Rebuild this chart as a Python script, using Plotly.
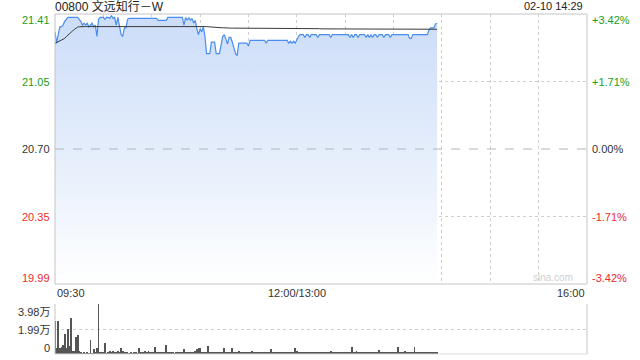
import plotly.graph_objects as go

# ---------------- data ----------------
prev_close = 20.70
price_ticks = [21.41, 21.05, 20.70, 20.35, 19.99]
price_tick_vals = [21.408, 21.054, 20.70, 20.346, 19.992]
pct_ticks = ["+3.42%", "+1.71%", "0.00%", "-1.71%", "-3.42%"]
time_labels = ["09:30", "12:00/13:00", "16:00"]
time_label_pos = [0, 150, 330]
vol_ticks = ["3.98万", "1.99万", "0"]
vol_tick_vals = [39800, 19900, 0]

price = [
    21.315, 21.255, 21.30, 21.34, 21.34, 21.35, 21.37, 21.38, 21.39, 21.39,
    21.39, 21.39, 21.39, 21.39, 21.39, 21.38, 21.37, 21.35, 21.36, 21.35,
    21.36, 21.34, 21.35, 21.36, 21.34, 21.35, 21.29, 21.38, 21.39, 21.39,
    21.39, 21.38, 21.39, 21.39, 21.385, 21.40, 21.385, 21.39, 21.35, 21.39,
    21.34, 21.30, 21.29, 21.335, 21.335, 21.38, 21.385, 21.385, 21.385, 21.385,
    21.385, 21.385, 21.385, 21.385, 21.385, 21.385, 21.385, 21.385, 21.385, 21.385,
    21.385, 21.385, 21.385, 21.385, 21.375, 21.375, 21.375, 21.375, 21.375, 21.375,
    21.39, 21.39, 21.39, 21.39, 21.39, 21.39, 21.39, 21.39, 21.39, 21.39,
    21.35, 21.39, 21.375, 21.39, 21.375, 21.385, 21.36, 21.375, 21.33, 21.30,
    21.33, 21.315, 21.34, 21.29, 21.20, 21.20, 21.20, 21.26, 21.26, 21.26,
    21.20, 21.20, 21.20, 21.245, 21.29, 21.30, 21.28, 21.25, 21.285, 21.285,
    21.26, 21.23, 21.20, 21.19, 21.255, 21.255, 21.255, 21.255, 21.255, 21.255,
    21.24, 21.27, 21.27, 21.27, 21.27, 21.27, 21.27, 21.27, 21.27, 21.27,
    21.27, 21.255, 21.27, 21.27, 21.27, 21.27, 21.27, 21.27, 21.27, 21.27,
    21.27, 21.27, 21.27, 21.27, 21.27, 21.255, 21.265, 21.255, 21.265, 21.255,
    21.275, 21.29, 21.30, 21.30, 21.30, 21.285, 21.30, 21.30, 21.285, 21.30,
    21.30, 21.30, 21.30, 21.285, 21.30, 21.30, 21.30, 21.30, 21.30, 21.30,
    21.30, 21.285, 21.30, 21.30, 21.30, 21.30, 21.30, 21.30, 21.30, 21.30,
    21.30, 21.30, 21.30, 21.285, 21.30, 21.285, 21.30, 21.30, 21.285, 21.30,
    21.30, 21.30, 21.30, 21.285, 21.30, 21.285, 21.30, 21.285, 21.30, 21.30,
    21.285, 21.30, 21.30, 21.30, 21.285, 21.30, 21.30, 21.30, 21.285, 21.30,
    21.30, 21.30, 21.30, 21.30, 21.30, 21.30, 21.30, 21.30, 21.30, 21.30,
    21.28, 21.28, 21.30, 21.30, 21.30, 21.30, 21.30, 21.30, 21.30, 21.30,
    21.30, 21.30, 21.325, 21.335, 21.335, 21.335, 21.355, 21.36,
]

avg_price = [
    21.254, 21.258, 21.262, 21.266, 21.270, 21.275, 21.280, 21.289, 21.298, 21.306,
    21.313, 21.320, 21.327, 21.334, 21.339, 21.341, 21.342, 21.342, 21.342, 21.342,
    21.342, 21.342, 21.342, 21.342, 21.343, 21.343, 21.343, 21.343, 21.343, 21.343,
    21.344, 21.344, 21.344, 21.344, 21.344, 21.344, 21.344, 21.344, 21.344, 21.344,
    21.344, 21.344, 21.344, 21.344, 21.344, 21.344, 21.344, 21.344, 21.344, 21.344,
    21.345, 21.345, 21.345, 21.345, 21.345, 21.345, 21.345, 21.345, 21.345, 21.345,
    21.345, 21.345, 21.345, 21.345, 21.345, 21.345, 21.345, 21.345, 21.345, 21.345,
    21.345, 21.345, 21.345, 21.345, 21.345, 21.345, 21.345, 21.345, 21.345, 21.345,
    21.345, 21.345, 21.345, 21.345, 21.345, 21.345, 21.345, 21.345, 21.345, 21.345,
    21.344, 21.344, 21.343, 21.343, 21.342, 21.341, 21.340, 21.339, 21.339, 21.338,
    21.337, 21.337, 21.336, 21.336, 21.336, 21.335, 21.335, 21.335, 21.335, 21.334,
    21.334, 21.334, 21.333, 21.333, 21.333, 21.333, 21.333, 21.333, 21.333, 21.333,
    21.333, 21.333, 21.333, 21.333, 21.333, 21.333, 21.333, 21.333, 21.333, 21.333,
    21.333, 21.333, 21.333, 21.333, 21.333, 21.332, 21.332, 21.332, 21.332, 21.332,
    21.332, 21.332, 21.332, 21.332, 21.332, 21.332, 21.332, 21.332, 21.332, 21.332,
    21.331, 21.331, 21.331, 21.331, 21.331, 21.331, 21.331, 21.331, 21.331, 21.331,
    21.331, 21.331, 21.331, 21.331, 21.331, 21.330, 21.330, 21.330, 21.330, 21.330,
    21.330, 21.330, 21.330, 21.330, 21.330, 21.330, 21.330, 21.330, 21.330, 21.330,
    21.330, 21.330, 21.330, 21.330, 21.330, 21.329, 21.329, 21.329, 21.329, 21.329,
    21.329, 21.329, 21.329, 21.329, 21.329, 21.329, 21.329, 21.329, 21.329, 21.329,
    21.329, 21.329, 21.329, 21.329, 21.329, 21.329, 21.329, 21.329, 21.329, 21.329,
    21.328, 21.328, 21.328, 21.328, 21.328, 21.328, 21.328, 21.328, 21.328, 21.328,
    21.328, 21.328, 21.328, 21.328, 21.328, 21.328, 21.328, 21.328, 21.328, 21.328,
    21.328, 21.328, 21.328, 21.328, 21.328, 21.328, 21.328, 21.328,
]

volume = [
    26200, 4450, 26200, 4450, 5200, 7100, 16200, 4450, 20200, 6300,
    28500, 2600, 2600, 13600, 15000, 2600, 1000, 500, 1500, 500,
    1500, 500, 11500, 500, 3700, 1800, 4500, 39800, 1800, 1000,
    1800, 8400, 500, 800, 2300, 1800, 2300, 1800, 1000, 2300,
    1000, 4450, 2600, 1800, 1000, 1000, 600, 1000, 600, 1000,
    1000, 600, 4450, 1000, 1500, 1000, 2600, 1000, 2600, 1000,
    1000, 1500, 5800, 1500, 1800, 1200, 1800, 1000, 1000, 7100,
    1000, 1000, 1200, 1800, 600, 1000, 1200, 1800, 1500, 1800,
    3700, 1000, 1500, 800, 1200, 1000, 1500, 2600, 3700, 5000,
    4450, 1000, 1800, 1000, 1200, 6300, 1500, 1000, 1200, 1000,
    1000, 1500, 1200, 1000, 1800, 5000, 1200, 1000, 1800, 1500,
    5000, 1000, 1200, 1000, 2600, 1000, 1500, 1000, 800, 1200,
    1000, 1500, 2600, 1000, 1200, 1000, 1000, 1500, 800, 1000,
    1200, 1000, 1000, 1500, 3700, 1000, 1200, 1000, 800, 1000,
    1200, 1000, 1000, 1500, 1000, 1200, 1000, 800, 1000, 4450,
    2000, 1500, 1800, 1000, 1200, 1000, 1500, 1000, 1200, 1000,
    1000, 1200, 1000, 800, 1000, 1000, 1200, 1000, 1500, 1000,
    1800, 2600, 1000, 1200, 1000, 1500, 1800, 1000, 1200, 1000,
    1500, 1000, 1200, 1800, 5800, 1200, 1000, 2600, 1000, 1500,
    1800, 1200, 1000, 1000, 1500, 1000, 1200, 1000, 1000, 1500,
    1800, 3100, 1200, 1000, 1500, 1000, 1000, 1200, 1500, 1000,
    1200, 1000, 1500, 5200, 1200, 1800, 1000, 2600, 1200, 1000,
    1000, 1800, 1500, 5200, 1200, 1000, 1500, 1000, 1200, 1800,
    1000, 1500, 1200, 1000, 800, 1500, 1000, 1200,
]

minutes = list(range(len(price)))

# ---------------- style ----------------
FONT = "Liberation Sans, Arial, Noto Sans CJK SC, sans-serif"
GREEN = "#1a9e1a"
RED = "#ee2a2a"
DARK = "#333333"
GRID = "#cfcfcf"
BORDER = "#c4c4c4"
y_lo, y_hi = 19.992, 21.408

fig = go.Figure()

# baseline for gradient fill
fig.add_trace(go.Scatter(x=[minutes[0], minutes[-1]], y=[y_lo, y_lo], mode="lines",
                         line=dict(width=0, color="rgba(0,0,0,0)"),
                         hoverinfo="skip", showlegend=False, xaxis="x", yaxis="y"))
fig.add_trace(go.Scatter(
    x=minutes, y=price, mode="lines",
    line=dict(color="#4a8df0", width=1.2),
    fill="tonexty",
    fillgradient=dict(type="vertical", start=y_lo, stop=21.40,
                      colorscale=[[0, "rgba(255,255,255,1)"], [0.5, "rgb(228,237,251)"],
                                  [1, "rgb(204,221,249)"]]),
    showlegend=False, xaxis="x", yaxis="y"))
fig.add_trace(go.Scatter(x=minutes, y=avg_price, mode="lines",
                         line=dict(color="#3a3a3a", width=1),
                         showlegend=False, xaxis="x", yaxis="y"))
fig.add_trace(go.Bar(x=minutes, y=volume, width=0.55, marker=dict(color="#555555", line=dict(width=0)),
                     showlegend=False, xaxis="x2", yaxis="y2"))

grid_x = list(range(0, 331, 30))
main_dom = [(354 - 284) / 340, 1.0]
vol_dom = [0.0, (354 - 304) / 340]

fig.update_layout(
    width=640, height=360,
    margin=dict(l=55, r=53, t=14, b=6),
    paper_bgcolor="white", plot_bgcolor="white",
    font=dict(family=FONT, size=11, color=DARK),
    xaxis=dict(domain=[0, 1], range=[0, 330], tickvals=grid_x, showticklabels=False,
               showgrid=True, gridcolor=GRID, griddash="dot", gridwidth=1,
               zeroline=False, ticks="", anchor="y"),
    yaxis=dict(domain=main_dom, range=[y_lo, y_hi], tickvals=[21.054, 20.346],
               showticklabels=False, showgrid=True, gridcolor=GRID, griddash="dot",
               zeroline=False, ticks=""),
    xaxis2=dict(domain=[0, 1], range=[0, 330], showticklabels=False, showgrid=False,
                zeroline=False, ticks="", anchor="y2"),
    yaxis2=dict(domain=vol_dom, range=[0, 39800], tickvals=[19900, 39800],
                showticklabels=False, showgrid=True, gridcolor=GRID, griddash="dot",
                zeroline=False, ticks=""),
    bargap=0,
)

shapes = []
# 0% dashed line
shapes.append(dict(type="line", xref="x domain", yref="y", x0=0, x1=1, y0=prev_close, y1=prev_close,
                   line=dict(color="#b4b4b4", width=1, dash="dash"), layer="above"))
# main borders
shapes.append(dict(type="rect", xref="x domain", yref="y domain", x0=0, x1=1, y0=0, y1=1,
                   line=dict(color=BORDER, width=1), layer="above"))
# volume borders
for x0 in (0, 1):
    shapes.append(dict(type="line", xref="x2 domain", yref="y2 domain", x0=x0, x1=x0, y0=0, y1=1,
                       line=dict(color=BORDER, width=1)))
shapes.append(dict(type="line", xref="x2 domain", yref="y2 domain", x0=0, x1=1, y0=0, y1=0,
                   line=dict(color="#dddddd", width=1)))
fig.update_layout(shapes=shapes)

ann = []
colors = [GREEN, GREEN, DARK, RED, RED]
shifts = [-6, 0, 0, 0, 6]
for lab, v, pc, c, s in zip(price_ticks, price_tick_vals, pct_ticks, colors, shifts):
    ann.append(dict(text=f"{lab:.2f}", xref="paper", yref="y", x=0, y=v, xanchor="right",
                    yanchor="middle", xshift=-3, yshift=s, showarrow=False,
                    font=dict(color=c, size=11, family=FONT)))
    ann.append(dict(text=pc, xref="paper", yref="y", x=1, y=v, xanchor="left",
                    yanchor="middle", xshift=3, yshift=s, showarrow=False,
                    font=dict(color=c, size=11, family=FONT)))
vshifts = [-8, -1, 6]
for lab, v, s in zip(vol_ticks, vol_tick_vals, vshifts):
    ann.append(dict(text=lab, xref="paper", yref="y2", x=0, y=v, xanchor="right",
                    yanchor="middle", xshift=-3, yshift=s, showarrow=False,
                    font=dict(color=DARK, size=11, family=FONT)))
anchors = ["left", "center", "right"]
for lab, pos, a in zip(time_labels, time_label_pos, anchors):
    ann.append(dict(text=lab, xref="x", yref="paper", x=pos, y=(354 - 293) / 340,
                    xanchor=a, yanchor="middle", showarrow=False,
                    font=dict(color=DARK, size=11, family=FONT)))
ann.append(dict(text="00800 文远知行－W", xref="paper", yref="paper", x=0, y=1,
                xanchor="left", yanchor="middle", yshift=8, xshift=-2, showarrow=False,
                font=dict(color="#222222", size=12, family=FONT)))
ann.append(dict(text="02-10 14:29", xref="paper", yref="paper", x=1, y=1,
                xanchor="right", yanchor="middle", yshift=8, xshift=-2, showarrow=False,
                font=dict(color="#222222", size=11, family=FONT)))
ann.append(dict(text="sina.com", xref="paper", yref="y", x=1, y=y_lo, xanchor="right",
                yanchor="middle", xshift=-12, yshift=7, showarrow=False,
                font=dict(color="#d0d0d0", size=10, family=FONT)))
fig.update_layout(annotations=ann)

fig.write_html("out.html")
